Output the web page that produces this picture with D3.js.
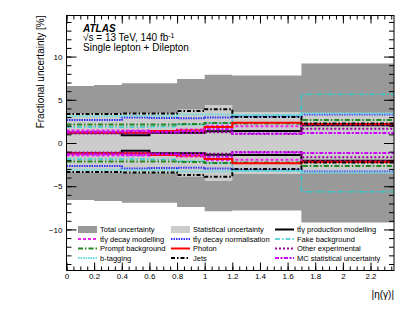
<!DOCTYPE html>
<html>
<head>
<meta charset="utf-8">
<script src="https://cdn.jsdelivr.net/npm/d3@7"></script>
<style>
  body { margin: 0; background: #fff; }
  svg { display: block; font-family: "Liberation Sans", Arial, Helvetica, sans-serif; }
  .axis text { font-size: 8px; fill: #000; }
  .axis path { display: none; }
  .axis line { stroke: #000; stroke-width: 1; }
  .legend text { font-size: 7.5px; }
</style>
</head>
<body>
<div class="svg-wrapper"></div>
<script>
// bin edges in |eta(gamma)|
var edges = [0, 0.2, 0.4, 0.6, 0.8, 1.0, 1.2, 1.7, 2.37];

// fractional uncertainties [%] per bin (symmetric)
var totalUnc       = [6.6, 6.7, 6.9, 6.9, 7.4, 7.9, 7.8, 9.2];
var statUnc        = [3.4, 3.4, 3.5, 3.5, 3.9, 4.4, 3.6, 3.5];
var prodModelling  = [1.2, 1.2, 0.9, 1.2, 1.2, 1.35, 1.4, 2.05];
var decayModelling = [1.45, 1.45, 1.45, 1.4, 1.55, 2.0, 1.95, 2.15];
var decayNorm      = [2.65, 2.65, 2.95, 2.9, 2.85, 2.95, 3.1, 3.3];
var fakeBkg        = [1.85, 1.85, 1.85, 1.9, 2.1, 2.3, 3.2, 5.65];
var promptBkg      = [2.15, 2.15, 2.15, 2.15, 2.2, 2.3, 2.25, 2.65];
var photon         = [1.2, 1.2, 1.2, 1.4, 1.45, 1.85, 2.35, 2.2];
var otherExp       = [1.1, 1.1, 1.1, 1.15, 1.15, 1.25, 1.05, 1.65];
var bTagging       = [3.1, 3.1, 3.15, 3.15, 3.3, 3.3, 3.2, 3.4];
var jets           = [3.35, 3.35, 3.4, 3.4, 3.7, 3.9, 3.0, 2.25];
var mcStat         = [1.3, 1.3, 1.35, 1.3, 1.4, 1.6, 1.1, 1.15];

var xTicks = [0, 0.2, 0.4, 0.6, 0.8, 1, 1.2, 1.4, 1.6, 1.8, 2, 2.2];
var yTicks = [-10, -5, 0, 5, 10];

var W = 415, H = 322;
var frame = { left: 66.5, right: 394, top: 15.5, bottom: 270.5 };

var svg = d3.select(".svg-wrapper").append("svg")
  .attr("width", W).attr("height", H);

var xScale = d3.scaleLinear().domain([0, 2.37]).range([frame.left, frame.right]),
    yScale = d3.scaleLinear().domain([-14.75, 14.75]).range([frame.bottom, frame.top]);

svg.append("clipPath").attr("id", "clip")
  .append("rect")
  .attr("x", frame.left).attr("y", frame.top)
  .attr("width", frame.right - frame.left).attr("height", frame.bottom - frame.top);

function stepPoints(vals) {
  return edges.map(function(e, i) {
    return { x: e, v: vals[Math.min(i, vals.length - 1)] };
  });
}

var band = d3.area()
  .curve(d3.curveStepAfter)
  .x(function(d) { return xScale(d.x); })
  .y0(function(d) { return yScale(-d.v); })
  .y1(function(d) { return yScale(d.v); });

var plot = svg.append("g").attr("clip-path", "url(#clip)");

plot.append("path").attr("d", band(stepPoints(totalUnc))).attr("fill", "#999999");
plot.append("path").attr("d", band(stepPoints(statUnc))).attr("fill", "#cccccc");

var lines = [
  { name: "t\u0074\u0304\u03b3 production modelling", vals: prodModelling, color: "#000000", dash: null, w: 2 },
  { name: "t\u0074\u0304\u03b3 decay modelling", vals: decayModelling, color: "#ee22ee", dash: "3,2", w: 2 },
  { name: "t\u0074\u0304\u03b3 decay normalisation", vals: decayNorm, color: "#3333ff", dash: "1.5,1", w: 2 },
  { name: "Fake background", vals: fakeBkg, color: "#33cccc", dash: "5,2,1.5,2", w: 1.5 },
  { name: "Prompt background", vals: promptBkg, color: "#228822", dash: "5,2,1.5,2", w: 2 },
  { name: "Photon", vals: photon, color: "#ff0000", dash: null, w: 2 },
  { name: "Other experimental", vals: otherExp, color: "#990099", dash: "2,2", w: 2 },
  { name: "b-tagging", vals: bTagging, color: "#66dddd", dash: "1.5,1", w: 2 },
  { name: "Jets", vals: jets, color: "#000000", dash: "4,2,1.5,2", w: 2 },
  { name: "MC statistical uncertainty", vals: mcStat, color: "#cc00ff", dash: "4,1.5,2,1.5", w: 2 }
];

[1, -1].forEach(function(sign) {
  var line = d3.line()
    .curve(d3.curveStepAfter)
    .x(function(d) { return xScale(d.x); })
    .y(function(d) { return yScale(sign * d.v); });
  lines.forEach(function(s) {
    plot.append("path")
      .attr("d", line(stepPoints(s.vals)))
      .attr("fill", "none")
      .attr("stroke", s.color)
      .attr("stroke-width", s.w)
      .attr("stroke-dasharray", s.dash);
  });
});

// axes, ROOT style ticks inside on all sides
var fmtX = function(d) { return d3.format("~g")(+d.toFixed(1)); };
var xMinor = d3.range(0, 48).map(function(i) { return +(i * 0.05).toFixed(2); });
var yMinor = d3.range(-14, 15);

svg.append("g").attr("class", "axis")
  .attr("transform", "translate(0," + frame.bottom + ")")
  .call(d3.axisBottom(xScale).tickValues(xMinor).tickSize(-4).tickFormat(""));
svg.append("g").attr("class", "axis")
  .attr("transform", "translate(0," + frame.bottom + ")")
  .call(d3.axisBottom(xScale).tickValues(xTicks).tickSize(-8).tickPadding(3).tickFormat(fmtX));
svg.append("g").attr("class", "axis")
  .attr("transform", "translate(0," + frame.top + ")")
  .call(d3.axisTop(xScale).tickValues(xMinor).tickSize(-4).tickFormat(""));
svg.append("g").attr("class", "axis")
  .attr("transform", "translate(0," + frame.top + ")")
  .call(d3.axisTop(xScale).tickValues(xTicks).tickSize(-8).tickFormat(""));

svg.append("g").attr("class", "axis")
  .attr("transform", "translate(" + frame.left + ",0)")
  .call(d3.axisLeft(yScale).tickValues(yMinor).tickSize(-5).tickFormat(""));
svg.append("g").attr("class", "axis")
  .attr("transform", "translate(" + frame.left + ",0)")
  .call(d3.axisLeft(yScale).tickValues(yTicks).tickSize(-10).tickPadding(4));
svg.append("g").attr("class", "axis")
  .attr("transform", "translate(" + frame.right + ",0)")
  .call(d3.axisRight(yScale).tickValues(yMinor).tickSize(-5).tickFormat(""));
svg.append("g").attr("class", "axis")
  .attr("transform", "translate(" + frame.right + ",0)")
  .call(d3.axisRight(yScale).tickValues(yTicks).tickSize(-10).tickFormat(""));

svg.append("rect")
  .attr("x", frame.left).attr("y", frame.top)
  .attr("width", frame.right - frame.left).attr("height", frame.bottom - frame.top)
  .attr("fill", "none").attr("stroke", "#000").attr("stroke-width", 1);

// axis titles
svg.append("text")
  .attr("transform", "translate(44," + frame.top + ") rotate(-90)")
  .attr("text-anchor", "end")
  .attr("font-size", 10)
  .text("Fractional uncertainty [%]");

svg.append("text")
  .attr("x", frame.right).attr("y", 298)
  .attr("text-anchor", "end")
  .attr("font-size", 10)
  .text("|\u03b7(\u03b3)|");

// labels
svg.append("text")
  .attr("x", 83).attr("y", 31.5)
  .attr("font-size", 10).attr("font-weight", "bold").attr("font-style", "italic")
  .text("ATLAS");
var lumi = svg.append("text")
  .attr("x", 83).attr("y", 41)
  .attr("font-size", 10);
lumi.append("tspan").text("\u221as = 13 TeV, 140 fb");
lumi.append("tspan").attr("dy", -3.5).attr("font-size", 7).text("-1");
svg.append("text")
  .attr("x", 83).attr("y", 51)
  .attr("font-size", 10)
  .text("Single lepton + Dilepton");

// legend, 3 columns row-major
var legendItems = [
  { name: "Total uncertainty", fill: "#999999" },
  { name: "Statistical uncertainty", fill: "#cccccc" }
].concat(lines);
var colX = [78, 171, 275], rowY = [229.5, 239, 248.5, 258];

var legend = svg.append("g").attr("class", "legend");
legendItems.forEach(function(d, i) {
  var cx = colX[i % 3], cy = rowY[Math.floor(i / 3)];
  if (d.fill) {
    legend.append("rect")
      .attr("x", cx).attr("y", cy - 3.5)
      .attr("width", 19).attr("height", 7)
      .attr("fill", d.fill);
  } else {
    legend.append("line")
      .attr("x1", cx).attr("x2", cx + 19)
      .attr("y1", cy).attr("y2", cy)
      .attr("stroke", d.color)
      .attr("stroke-width", d.w)
      .attr("stroke-dasharray", d.dash);
  }
  legend.append("text")
    .attr("x", cx + 22).attr("y", cy + 2.7)
    .text(d.name);
});
</script>
</body>
</html>
